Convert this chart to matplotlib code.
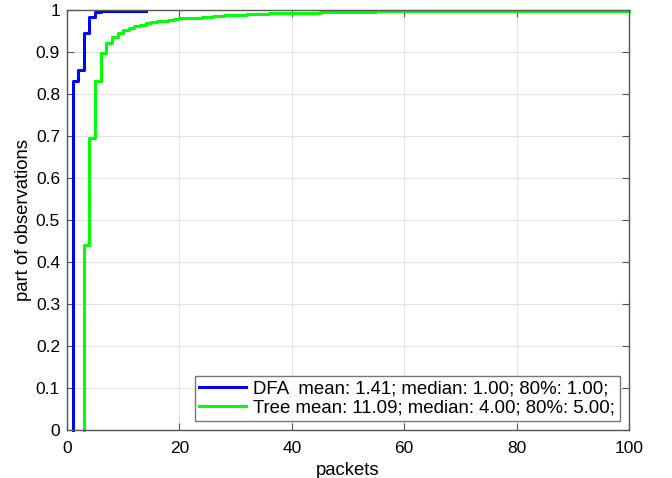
import matplotlib
matplotlib.use("Agg")
import matplotlib.pyplot as plt

plt.rcParams['font.family'] = ['Liberation Sans', 'DejaVu Sans']

dfa_x = [1, 1, 2, 3, 4, 5, 6, 8, 10, 14]
dfa_y = [0.0, 0.83, 0.857, 0.945, 0.983, 0.995, 0.997, 0.998, 0.998, 0.998]

tree_x = [3, 3, 4, 5, 6, 7, 8, 9, 10, 11, 12, 13, 14, 15, 16, 17, 18, 19, 20,
          22, 24, 26, 28, 30, 32, 34, 36, 38, 40, 45, 50, 55, 60, 70, 80, 90, 100]
tree_y = [0.0, 0.44, 0.695, 0.832, 0.897, 0.922, 0.936, 0.946, 0.952, 0.957,
          0.961, 0.965, 0.968, 0.971, 0.973, 0.975, 0.977, 0.979, 0.980,
          0.982, 0.984, 0.986, 0.988, 0.989, 0.990, 0.991, 0.992, 0.993, 0.994,
          0.995, 0.996, 0.997, 0.997, 0.998, 0.998, 0.998, 0.998]

labels = ["DFA  mean: 1.41; median: 1.00; 80%: 1.00;",
          "Tree mean: 11.09; median: 4.00; 80%: 5.00;"]
xticks = [0, 20, 40, 60, 80, 100]
yticks = [0, 0.1, 0.2, 0.3, 0.4, 0.5, 0.6, 0.7, 0.8, 0.9, 1]
yticklabels = ["0", "0.1", "0.2", "0.3", "0.4", "0.5", "0.6", "0.7", "0.8", "0.9", "1"]

fig = plt.figure(figsize=(6.72, 4.78), dpi=100)
ax = fig.add_axes([67/672, 1 - 430/478, (629 - 67)/672, (430 - 10)/478])

ax.plot(dfa_x, dfa_y, drawstyle='steps-post', color='#0000ff', lw=2.2,
        label=labels[0], clip_on=False)
ax.plot(tree_x, tree_y, drawstyle='steps-post', color='#00ff00', lw=2.2,
        label=labels[1], clip_on=False)

ax.set_xlim(0, 100)
ax.set_ylim(0, 1)
ax.set_xticks(xticks)
ax.set_yticks(yticks)
ax.set_yticklabels(yticklabels)
ax.grid(True, color='#e3e3e3', lw=0.8)
ax.set_axisbelow(True)
ax.tick_params(direction='in', top=True, right=True, length=5, width=0.8,
               color='#555555', labelsize=12.5)
ax.tick_params(axis='x', pad=8)
ax.tick_params(axis='y', pad=5)
for s in ax.spines.values():
    s.set_color('#555555')
    s.set_linewidth(1.0)
    s.set_zorder(3)

ax.set_xlabel('packets', fontsize=13.3, labelpad=4)
ax.set_ylabel('part of observations', fontsize=13.3, labelpad=3)

leg = ax.legend(loc='lower right', fontsize=13.4, frameon=True, fancybox=False,
                edgecolor='#555555', handlelength=2.5, handletextpad=0.4,
                borderpad=0.25, labelspacing=0.08, borderaxespad=0.5)
leg.get_frame().set_linewidth(1.0)
leg.set_zorder(4)

fig.savefig('out.png', dpi=100)
